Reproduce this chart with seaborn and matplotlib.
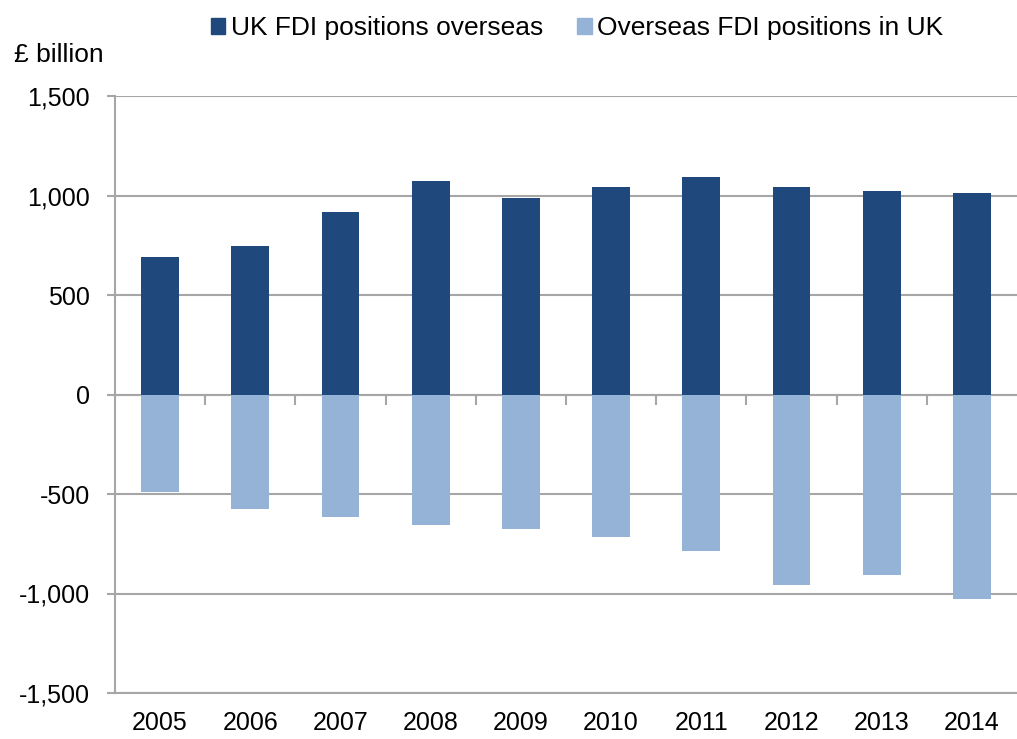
import numpy as np
import pandas as pd
import seaborn as sns
import matplotlib.pyplot as plt
from matplotlib.ticker import FuncFormatter, FixedLocator

years = ['2005', '2006', '2007', '2008', '2009', '2010', '2011', '2012', '2013', '2014']
uk_overseas = [690, 745, 915, 1075, 985, 1045, 1095, 1045, 1025, 1015]
overseas_in_uk = [-492, -577, -617, -657, -677, -718, -788, -958, -908, -1029]
series_names = ['UK FDI positions overseas', 'Overseas FDI positions in UK']
colors = ['#1F497D', '#95B3D7']

df = pd.concat([
    pd.DataFrame({'year': years, 'value': uk_overseas, 'series': series_names[0]}),
    pd.DataFrame({'year': years, 'value': overseas_in_uk, 'series': series_names[1]}),
])

sns.set_style('white')
plt.rcParams['font.family'] = ['Liberation Sans', 'DejaVu Sans']
plt.rcParams['axes.unicode_minus'] = False
plt.rcParams['text.color'] = 'black'

fig = plt.figure(figsize=(10.17, 7.39), dpi=100)
ax = fig.add_axes([115 / 1017, 1 - 693 / 739, 1 - 115 / 1017, (693 - 96) / 739])

sns.barplot(data=df, x='year', y='value', hue='series', dodge=False, width=0.42,
            palette=colors, saturation=1, ax=ax, legend=False, zorder=3, linewidth=0)

grid_col = '#A6A6A6'
ax.set_ylim(-1500, 1500)
ax.set_xlim(-0.5, 9.5)
ax.set_yticks(np.arange(-1500, 1501, 500))
ax.yaxis.set_major_formatter(FuncFormatter(lambda v, p: f'{v:,.0f}'))
ax.yaxis.grid(True, color=grid_col, linewidth=1.5, zorder=0)
ax.tick_params(axis='y', length=6, width=1.5, color=grid_col, labelsize=18, pad=12,
               left=True, labelcolor='black')
ax.set_xlabel('')
ax.set_ylabel('')

for s in ['top', 'right']:
    ax.spines[s].set_visible(False)
ax.spines['left'].set_color(grid_col)
ax.spines['left'].set_linewidth(1.5)

# category axis drawn at zero with boundary ticks
ax.spines['bottom'].set_position(('data', 0))
ax.spines['bottom'].set_color(grid_col)
ax.spines['bottom'].set_linewidth(1.5)
ax.set_xticks(range(len(years)))
ax.tick_params(axis='x', which='major', length=0, labelbottom=False)
ax.xaxis.set_minor_locator(FixedLocator(np.arange(0.5, len(years) - 0.5, 1)))
ax.tick_params(axis='x', which='minor', length=7, width=1.5, color=grid_col, bottom=True)

sec = ax.secondary_xaxis('bottom')
sec.set_xticks(range(len(years)), labels=years)
sec.tick_params(length=0, labelsize=18, pad=13, labelcolor='black')
sec.spines['bottom'].set_color(grid_col)
sec.spines['bottom'].set_linewidth(1.5)

fig.text(14 / 1017, 1 - 55 / 739, '£ billion', fontsize=19, va='center', ha='left')

handles = [plt.Rectangle((0, 0), 1, 1, color=c) for c in colors]
fig.legend(handles, series_names, loc='center', bbox_to_anchor=(577 / 1017, 1 - 28 / 739),
           ncol=2, frameon=False, fontsize=19, handlelength=0.55, handleheight=0.55,
           handletextpad=0.2, columnspacing=1.3)

fig.savefig('out.png', dpi=100)
